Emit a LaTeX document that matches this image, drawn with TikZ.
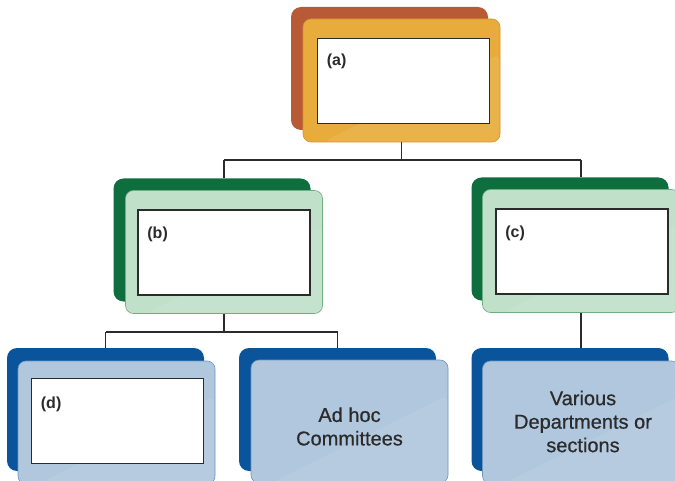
\documentclass[tikz,border=0pt]{standalone}
\usepackage{fontspec}
\setmainfont{Liberation Sans}
\usetikzlibrary{positioning}

\definecolor{rust}{HTML}{B95A36}
\definecolor{gold}{HTML}{E8AC3C}
\definecolor{goldline}{HTML}{D6922C}
\definecolor{darkgreen}{HTML}{0F6E3D}
\definecolor{mint}{HTML}{C0E0CA}
\definecolor{mintline}{HTML}{6FAE80}
\definecolor{navy}{HTML}{0A549C}
\definecolor{paleblue}{HTML}{B0C7DD}
\definecolor{palebline}{HTML}{6F95BE}
\definecolor{ink}{HTML}{2B2B2B}

\tikzset{
	backbox/.style={rounded corners=10pt, minimum width=197pt, minimum height=123pt, inner sep=0pt},
	frontbox/.style={rounded corners=8pt, minimum width=197pt, minimum height=123pt, inner sep=0pt, line width=.6pt,
		path picture={\fill[white, opacity=.08] ([xshift=20pt]path picture bounding box.south west) -- ([yshift=-35pt]path picture bounding box.north east) -- (path picture bounding box.south east) -- cycle;}},
	whitebox/.style={draw=ink, fill=white, line width=1.6pt, minimum width=172pt, minimum height=85pt, inner sep=0pt, anchor=north west},
	tag/.style={font=\bfseries\fontsize{16}{18}\selectfont, text=ink, anchor=north west, inner sep=0pt},
	boxtext/.style={font=\addfontfeature{FakeBold=0.6}\fontsize{20}{23.5}\selectfont, align=center, text=ink, inner sep=0pt},
	conn/.style={draw=ink, line width=1.3pt}
}

\begin{document}
\begin{tikzpicture}[x=1pt,y=-1pt]
	\useasboundingbox (0,0) rectangle (675,481);
	% top box
	\node[backbox, fill=rust] (aback) at (389.5,68.5) {};
	\node[frontbox, fill=gold, draw=goldline] (a) at ([shift={(12,12)}]aback.center) {};
	\node[whitebox] (ain) at ([shift={(14,19)}]a.north west) {};
	\node[tag] (atag) at ([shift={(10,16)}]ain.north west) {(a)};
	% middle row
	\node[backbox, fill=darkgreen] (bback) at (212,240) {};
	\node[frontbox, fill=mint, draw=mintline] (b) at ([shift={(12,12)}]bback.center) {};
	\node[whitebox] (bin) at ([shift={(12,19)}]b.north west) {};
	\node[tag] (btag) at ([shift={(10,18)}]bin.north west) {(b)};
	\node[backbox, fill=darkgreen] (cback) at (570,239) {};
	\node[frontbox, fill=mint, draw=mintline] (c) at ([shift={(11,12)}]cback.center) {};
	\node[whitebox] (cin) at ([shift={(13,19)}]c.north west) {};
	\node[tag] (ctag) at ([shift={(10,18)}]cin.north west) {(c)};
	% bottom row
	\node[backbox, fill=navy] (dback) at (105.5,409.5) {};
	\node[frontbox, fill=paleblue, draw=palebline] (d) at ([shift={(11,13)}]dback.center) {};
	\node[whitebox] (din) at ([shift={(13,17)}]d.north west) {};
	\node[tag] (dtag) at ([shift={(10,19)}]din.north west) {(d)};
	\node[backbox, fill=navy] (eback) at (337.5,409.5) {};
	\node[frontbox, fill=paleblue, draw=palebline] (e) at ([shift={(12,12)}]eback.center) {};
	\node[boxtext] (etext) at ([yshift=-5pt]e.center) {Ad hoc\\Committees};
	\node[backbox, fill=navy] (fback) at (570,409.5) {};
	\node[frontbox, fill=paleblue, draw=palebline] (f) at ([shift={(11,13)}]fback.center) {};
	\node[boxtext] (ftext) at ([shift={(2,-1)}]f.center) {Various\\Departments or\\sections};
	% connectors
	\coordinate (bus1) at (0,160);
	\coordinate (bus2) at (0,332);
	\draw[conn] (a.south) -- (a.south |- bus1);
	\draw[conn] (b.north |- bus1) -- (c.north |- bus1);
	\draw[conn] (b.north |- bus1) -- (b.north |- bback.north);
	\draw[conn] (c.north |- bus1) -- (c.north |- cback.north);
	\draw[conn] (b.south) -- (b.south |- bus2);
	\draw[conn] (dback.north |- bus2) -- (eback.north |- bus2);
	\draw[conn] (dback.north |- bus2) -- (dback.north);
	\draw[conn] (eback.north |- bus2) -- (eback.north);
	\draw[conn] (c.south) -- (c.south |- fback.north);
\end{tikzpicture}
\end{document}
